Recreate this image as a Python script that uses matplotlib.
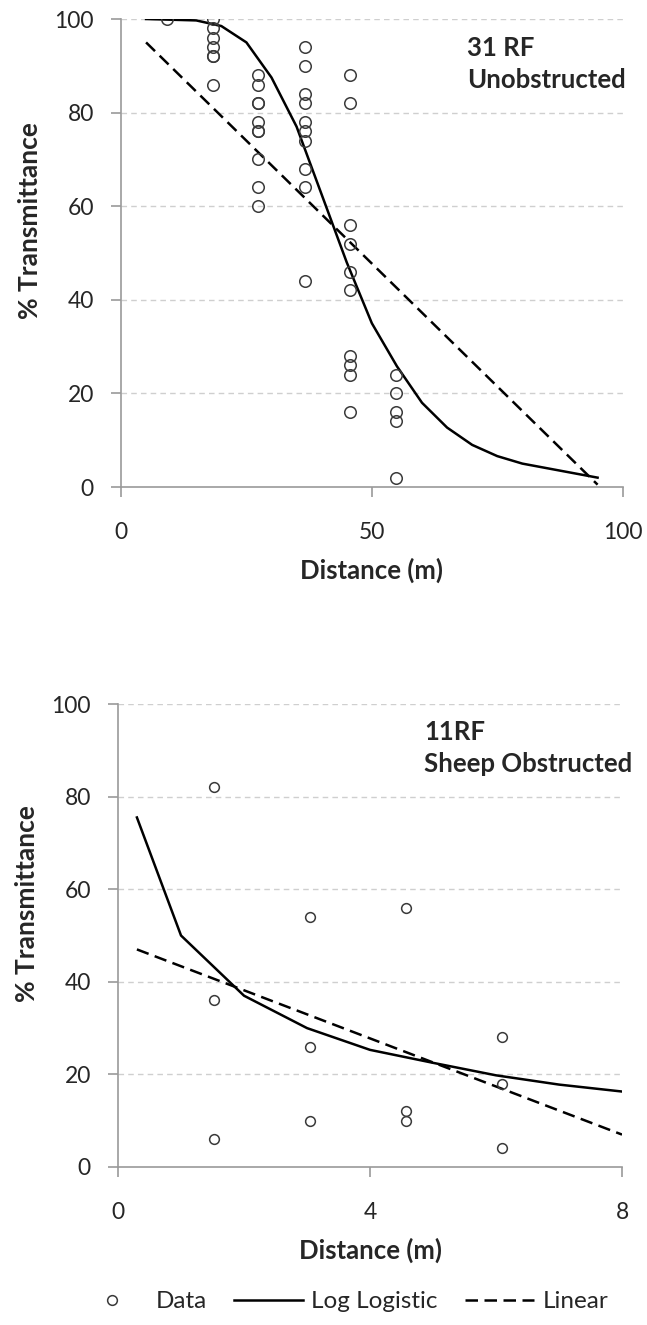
import matplotlib
matplotlib.use('Agg')
import matplotlib.pyplot as plt
from matplotlib.lines import Line2D

plt.rcParams['font.family'] = ['Lato', 'DejaVu Sans']

# ---- top panel: 31 RF unobstructed ----
top_x = [9.1, 18.3, 18.3, 18.3, 18.3, 18.3, 18.3, 18.3,
         27.4, 27.4, 27.4, 27.4, 27.4, 27.4, 27.4, 27.4, 27.4, 27.4,
         36.6, 36.6, 36.6, 36.6, 36.6, 36.6, 36.6, 36.6, 36.6, 36.6,
         45.7, 45.7, 45.7, 45.7, 45.7, 45.7, 45.7, 45.7, 45.7, 45.7,
         54.9, 54.9, 54.9, 54.9, 54.9]
top_y = [100, 100, 98, 96, 94, 92, 92, 86,
         88, 86, 82, 82, 78, 76, 76, 70, 64, 60,
         94, 90, 84, 82, 78, 76, 74, 68, 64, 44,
         88, 82, 56, 52, 46, 42, 28, 26, 24, 16,
         24, 20, 16, 14, 2]
top_fit_x = [5, 15, 20, 25, 30, 35, 40, 45, 50, 55, 60, 65, 70, 75, 80, 85, 90, 95]
top_fit_y = [100, 99.7, 98.5, 95, 87.5, 77, 62.5, 48, 35, 25.8, 18, 12.7, 9, 6.6, 5, 4, 3, 2]
top_lin_x = [5, 95]
top_lin_y = [95, 0.5]
top_title = ['31 RF', 'Unobstructed']

# ---- bottom panel: 11RF sheep obstructed ----
bot_x = [1.52, 1.52, 1.52, 3.05, 3.05, 3.05, 4.57, 4.57, 4.57, 6.1, 6.1, 6.1]
bot_y = [82, 36, 6, 54, 26, 10, 56, 12, 10, 28, 18, 4]
bot_fit_x = [0.3, 1, 2, 3, 4, 5, 6, 7, 8]
bot_fit_y = [75.5, 50, 37, 30, 25.3, 22.5, 19.8, 17.8, 16.3]
bot_lin_x = [0.3, 8]
bot_lin_y = [47, 7]
bot_title = ['11RF', 'Sheep Obstructed']

yticks = [0, 20, 40, 60, 80, 100]
spine_col = '#9a9a9a'
txt_col = '#262626'
dash = (0, (5, 2.6))


def style_axes(ax, xticks):
    ax.set_ylim(0, 100)
    ax.set_xlim(xticks[0], xticks[-1])
    ax.set_yticks(yticks)
    ax.set_xticks(xticks)
    for s in ['top', 'right']:
        ax.spines[s].set_visible(False)
    for s in ['left', 'bottom']:
        ax.spines[s].set_color(spine_col)
        ax.spines[s].set_linewidth(1.2)
    ax.tick_params(axis='y', direction='out', length=7, width=1.2, color=spine_col,
                   labelsize=16.5, labelcolor=txt_col, pad=12.5)
    ax.tick_params(axis='x', direction='out', length=7, width=1.2, color=spine_col,
                   labelsize=16.5, labelcolor=txt_col, pad=18)
    for v in yticks[1:]:
        ax.axhline(v, color='#cfcfcf', lw=1.0, ls=(0, (4, 3)), zorder=0)
    ax.set_ylabel('% Transmittance', fontsize=19, fontweight='bold', color=txt_col, labelpad=9)
    ax.yaxis.label.set_y(0.57)
    ax.set_xlabel('Distance (m)', fontsize=18.5, fontweight='bold', color=txt_col, labelpad=11)


fig = plt.figure(figsize=(6.47, 13.25), dpi=100)
ax1 = fig.add_axes([0.187, 0.63245, 0.7754, 0.3532])
ax2 = fig.add_axes([0.1824, 0.11925, 0.779, 0.3494])

ax1.plot(top_x, top_y, 'o', mfc='none', mec='#3a3a3a', mew=1.1, ms=8.3, zorder=3)
ax1.plot(top_fit_x, top_fit_y, '-', color='black', lw=1.8, zorder=2)
ax1.plot(top_lin_x, top_lin_y, color='black', lw=1.8, ls=dash, zorder=2)
style_axes(ax1, [0, 50, 100])
for yy, line in zip([93.9, 87], top_title):
    ax1.text(68.9, yy, line, fontsize=18.5, fontweight='bold', color=txt_col,
             va='center', ha='left')

ax2.plot(bot_x, bot_y, 'o', mfc='none', mec='#3a3a3a', mew=1.1, ms=7, zorder=3)
ax2.plot(bot_fit_x, bot_fit_y, '-', color='black', lw=1.8, zorder=2)
ax2.plot(bot_lin_x, bot_lin_y, color='black', lw=1.8, ls=dash, zorder=2)
style_axes(ax2, [0, 4, 8])
for yy, line in zip([94, 87], bot_title):
    ax2.text(4.86, yy, line, fontsize=18.5, fontweight='bold', color=txt_col,
             va='center', ha='left')

handles = [Line2D([], [], ls='none', marker='o', mfc='none', mec='#3a3a3a', mew=1.1, ms=7),
           Line2D([], [], color='black', lw=1.8),
           Line2D([], [], color='black', lw=1.8, ls=dash)]
fig.legend(handles, ['Data', 'Log Logistic', 'Linear'], loc='center', ncol=3,
           bbox_to_anchor=(0.53, 0.0174), frameon=False, fontsize=17.5, handlelength=2.85,
           handletextpad=0.35, columnspacing=1.1, labelcolor=txt_col)

fig.savefig('out.png', dpi=100, facecolor='white')
